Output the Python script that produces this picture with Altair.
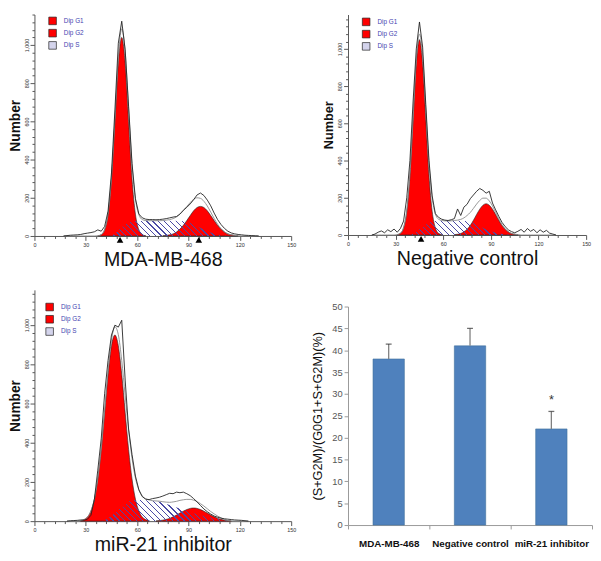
import math
import altair as alt
import pandas as pd

FONT = "Liberation Sans"

# ---------------- Panel A : MDA-MB-468 ----------------
a_g1_x = list(range(37, 66, 2))
a_g1_y = [1, 7, 33, 114, 299, 598, 906, 1040, 906, 598, 299, 114, 33, 7, 1]
a_g2_x = list(range(75, 120, 2))
a_g2_y = [1, 3, 6, 11, 21, 36, 56, 81, 107, 132, 149, 155, 149, 132, 107, 81, 56, 36, 21, 11, 6, 3, 1]
a_s_x = list(range(43, 114, 2))
a_s_y = [0, 3, 12, 28, 45, 60, 70, 76, 78, 79, 79, 80, 80, 80, 80, 80, 80, 80, 80, 80,
         79, 78, 77, 74, 68, 60, 51, 42, 33, 25, 18, 11, 6, 3, 1, 0]
a_raw_x = list(range(17, 132, 2))
a_raw_y = [0, 2, 4, 5, 6, 8, 12, 15, 18, 22,
           32, 25, 50, 130, 330, 660, 1010, 1125, 975, 680,
           380, 195, 115, 95, 88, 86, 86, 85, 86, 88,
           91, 95, 99, 102, 115, 135, 150, 168, 190, 215,
           225, 212, 188, 158, 120, 86, 60, 40, 25, 16,
           11, 8, 6, 4, 3, 2, 1, 0]
a_tri = [50, 96]

# ---------------- Panel B : Negative control ----------------
b_g1_x = list(range(31, 60, 2))
b_g1_y = [2, 9, 39, 128, 321, 620, 920, 1050, 920, 620, 321, 128, 39, 9, 2]
b_g2_x = list(range(67, 108, 2))
b_g2_y = [2, 4, 8, 17, 31, 51, 79, 110, 139, 160, 168, 160, 139, 110, 79, 51, 31, 17, 8, 4, 2]
b_s_x = list(range(37, 104, 2))
b_s_y = [0, 3, 8, 18, 30, 42, 55, 65, 72, 75, 76, 76, 76, 76, 76, 76, 76, 76, 75, 74,
         70, 64, 56, 47, 38, 30, 23, 17, 12, 8, 5, 3, 1, 0]
b_raw_x = list(range(15, 132, 2))
b_raw_y = [0, 5, 15, 22, 12, 28, 18, 32, 15, 35,
           75, 200, 400, 720, 1000, 1145, 1010, 700, 400, 210,
           115, 95, 85, 80, 78, 82, 88, 140, 105, 150,
           165, 195, 215, 235, 250, 240, 225, 235, 172, 135,
           100, 68, 45, 28, 18, 12, 20, 30, 15, 35,
           20, 30, 12, 28, 15, 25, 10, 5, 0]
b_tri = [46]

# ---------------- Panel C : miR-21 inhibitor ----------------
c_g1_x = list(range(27, 68, 2))
c_g1_y = [3, 8, 21, 52, 112, 215, 367, 556, 749, 895, 950, 895, 749, 556, 367, 215, 112, 52, 21, 8, 3]
c_g2_x = list(range(71, 116, 2))
c_g2_y = [1, 3, 5, 9, 14, 22, 31, 41, 51, 59, 65, 67, 65, 59, 51, 41, 31, 22, 14, 9, 5, 3, 1]
c_s_x = list(range(39, 114, 2))
c_s_y = [0, 5, 15, 28, 42, 56, 70, 84, 98, 106, 108, 108, 107, 106, 105, 104, 102, 99, 94, 88,
         82, 76, 70, 65, 58, 52, 46, 40, 35, 30, 26, 22, 18, 15, 12, 8, 4, 0]
c_raw_x = list(range(19, 126, 2))
c_raw_y = [0, 2, 3, 4, 6, 5, 10, 30, 110, 260,
           420, 650, 820, 950, 1000, 990, 1025, 720, 470, 340,
           230, 160, 125, 112, 110, 115, 118, 122, 128, 135,
           142, 140, 148, 145, 148, 140, 130, 115, 98, 80,
           62, 48, 36, 26, 20, 15, 12, 10, 8, 6,
           5, 4, 2, 0]
c_tri = []

# ---------------- Bar chart ----------------
groups = ["MDA-MB-468", "Negative control", "miR-21 inhibitor"]
means = [38.0, 41.0, 22.0]
errs = [3.4, 4.0, 4.0]
sig = ["", "", "*"]
bar_ticks = [0, 5, 10, 15, 20, 25, 30, 35, 40, 45, 50]

phases = ["Dip G1", "Dip G2", "Dip S"]
phase_colors = ["#ff0000", "#ff0000", "#d4d4ec"]


def hatch(wpx, hpx, period=4.2, lw=0.9, color="#4b4ba5"):
    """Diagonal '\\' hatching as a bbox-relative linear gradient."""
    iw, ih = 1.0 / wpx, 1.0 / hpx
    s = (ih + iw) / (ih * ih + iw * iw)
    x2, y2 = ih * s, 1 - iw * s
    n = max(1, int((wpx + hpx) / (math.sqrt(2) * period)))
    clear = "rgba(255,255,255,0)"
    stops = []
    for i in range(n):
        a = i / n
        b = (i + lw / period) / n
        c = (i + 1) / n
        stops += [{"offset": a, "color": color}, {"offset": b, "color": color},
                  {"offset": b, "color": clear}, {"offset": c, "color": clear}]
    return {"gradient": "linear", "x1": 0, "y1": 1, "x2": x2, "y2": y2, "stops": stops}


def panel(title, g1x, g1y, g2x, g2y, sx, sy, rx, ry, tri, w, h, ymax, lx, ly, ytitle_size):
    assert len(g1x) == len(g1y) and len(g2x) == len(g2y)
    assert len(sx) == len(sy) and len(rx) == len(ry)
    ppx = w / 150.0
    ppy = h / ymax
    xaxis = alt.Axis(
        values=list(range(0, 151, 6)),
        labelExpr="datum.value % 30 === 0 ? datum.label : ''",
        tickSize={"condition": {"test": "datum.value % 30 === 0", "value": 4.5}, "value": 2.5},
        labelFontSize=5.5, labelColor="#333", labelPadding=2, labelFlush=False,
        labelOverlap=False, domainColor="#555", tickColor="#555", grid=False,
        title=title, titleFontSize=20, titleFontWeight="normal", titleColor="#111",
        titlePadding=2, titleFont=FONT, labelFont=FONT)
    yvals = list(range(0, int(ymax) + 1, 40))
    yaxis = alt.Axis(
        values=yvals,
        labelExpr="datum.value % 200 === 0 ? datum.label : ''",
        tickSize={"condition": {"test": "datum.value % 200 === 0", "value": 4.5}, "value": 2.5},
        labelAngle=270, labelAlign="center", labelBaseline="bottom",
        labelFontSize=5.5, labelColor="#333", labelPadding=1, labelOverlap=False,
        domainColor="#555", tickColor="#555", grid=False,
        title="Number", titleFontSize=ytitle_size, titleFontWeight="bold",
        titleColor="#111", titlePadding=2, titleFont=FONT, labelFont=FONT)
    X = alt.X("ch:Q", scale=alt.Scale(domain=[0, 150], nice=False, zero=False), axis=xaxis)
    Y = alt.Y("n:Q", scale=alt.Scale(domain=[0, ymax], nice=False), axis=yaxis)
    cscale = alt.Scale(domain=phases, range=phase_colors)
    leg = alt.Legend(title=None, orient="none", legendX=lx, legendY=ly,
                     symbolType="square", symbolSize=60, symbolStrokeColor="#222",
                     symbolStrokeWidth=0.7, symbolOpacity=1, labelColor="#4444b0",
                     labelFontSize=6.5, labelFont=FONT, rowPadding=1.5, labelOffset=7,
                     padding=0)
    g1 = pd.DataFrame({"ch": g1x, "n": g1y, "phase": phases[0]})
    g2 = pd.DataFrame({"ch": g2x, "n": g2y, "phase": phases[1]})
    C = alt.Color("phase:N", scale=cscale, legend=leg)
    l_g1 = alt.Chart(g1).mark_area(interpolate="monotone", stroke="#222", strokeWidth=0.6).encode(x=X, y=Y, color=C)
    l_g2 = alt.Chart(g2).mark_area(interpolate="monotone", stroke="#222", strokeWidth=0.6).encode(x=X, y=Y, color=C)
    sdf = pd.DataFrame({"ch": sx, "n": sy})
    grad = hatch((max(sx) - min(sx)) * ppx, max(sy) * ppy)
    l_s = alt.Chart(sdf).mark_area(interpolate="monotone", fill=grad).encode(x=X, y=Y)
    grid = sorted(set(g1x) | set(g2x) | set(sx) | set(rx))

    def on(xv, yv):
        return pd.Series(yv, index=xv).reindex(grid, fill_value=0)

    model = on(g1x, g1y) + on(g2x, g2y) + on(sx, sy)
    mdf = pd.DataFrame({"ch": grid, "n": model.values})
    l_m = alt.Chart(mdf).mark_line(interpolate="monotone", color="#8a8a8a", strokeWidth=0.9).encode(x=X, y=Y)
    rdf = pd.DataFrame({"ch": rx, "n": ry})
    l_r = alt.Chart(rdf).mark_line(color="#222", strokeWidth=0.9).encode(x=X, y=Y)
    layers = [l_g1, l_g2, l_s, l_m, l_r]
    if tri:
        tdf = pd.DataFrame({"ch": tri, "n": [0] * len(tri)})
        layers.append(alt.Chart(tdf).mark_point(shape="triangle-up", filled=True, color="#000",
                                                size=45, opacity=1, yOffset=4).encode(x=X, y=Y))
    return alt.layer(*layers).properties(width=w, height=h)


pA = panel("MDA-MB-468", a_g1_x, a_g1_y, a_g2_x, a_g2_y, a_s_x, a_s_y, a_raw_x, a_raw_y,
           a_tri, 262, 226, 1160, 14, 2, 14)
pB = panel("Negative control", b_g1_x, b_g1_y, b_g2_x, b_g2_y, b_s_x, b_s_y, b_raw_x, b_raw_y,
           b_tri, 243, 225, 1185, 14, 3, 13)
pC = panel("miR-21 inhibitor", c_g1_x, c_g1_y, c_g2_x, c_g2_y, c_s_x, c_s_y, c_raw_x, c_raw_y,
           c_tri, 262, 236, 1180, 11, 13, 14)

# ---- bar chart ----
bdf = pd.DataFrame({"group": groups, "mean": means, "err": errs, "sig": sig})
bx = alt.X("group:N", sort=groups, scale=alt.Scale(paddingInner=0, paddingOuter=0),
           axis=alt.Axis(title=None, labelAngle=0, labelFontSize=10, labelFontWeight="bold",
                         labelColor="#111", labelPadding=10, tickBand="extent", tickSize=4,
                         tickColor="#999", domainColor="#999", labelFont=FONT))
yax = alt.Axis(values=bar_ticks, title="(S+G2M)/(G0G1+S+G2M)(%)", titleFontSize=13,
               titleFontWeight="normal", titleColor="#111", titlePadding=7, titleFont=FONT,
               labelFontSize=9.5, labelColor="#555", labelFont=FONT, tickSize=4,
               tickColor="#999", domainColor="#999", grid=False)
ysc = alt.Scale(domain=[0, 50], nice=False)
bars = alt.Chart(bdf).mark_bar(size=32, color="#4F81BD", stroke="#41719c", strokeWidth=0.6).encode(
    x=bx, y=alt.Y("mean:Q", scale=ysc, axis=yax))
errs_l = alt.Chart(bdf).transform_calculate(top="datum.mean + datum.err").mark_rule(
    color="#7f7f7f", strokeWidth=1.3).encode(x=bx, y=alt.Y("mean:Q", scale=ysc, axis=yax), y2="top:Q")
caps = alt.Chart(bdf).transform_calculate(top="datum.mean + datum.err").mark_tick(
    color="#333", size=6, thickness=1.3).encode(x=bx, y=alt.Y("top:Q", scale=ysc, axis=yax))
stars = alt.Chart(bdf).transform_calculate(sy="datum.mean + datum.err + 2.6").mark_text(
    fontSize=13, baseline="middle", color="#333", font=FONT).encode(
    x=bx, y=alt.Y("sy:Q", scale=ysc, axis=yax), text="sig:N")
pD = alt.layer(bars, errs_l, caps, stars).properties(width=249, height=223)

left = alt.vconcat(pA, pC, spacing=21).resolve_scale(color="independent").resolve_legend(color="independent")
right = alt.vconcat(pB, pD, spacing=34).resolve_scale(color="independent").resolve_legend(color="independent")

chart = (alt.hconcat(left, right, spacing=16)
         .resolve_scale(color="independent")
         .resolve_legend(color="independent")
         .properties(padding={"left": 0, "top": 0, "right": 0, "bottom": 0})
         .configure(font=FONT)
         .configure_view(stroke=None))

chart.save("out.html", embed_options={"renderer": "svg", "actions": False})
